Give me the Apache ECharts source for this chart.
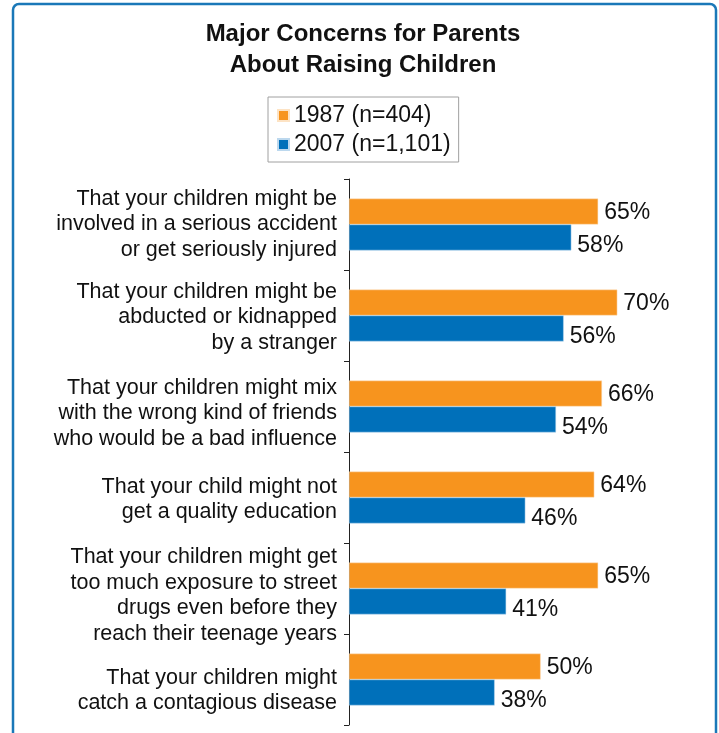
<!DOCTYPE html>
<html>
<head>
<meta charset="utf-8">
<script src="https://cdn.jsdelivr.net/npm/echarts@6/dist/echarts.min.js"></script>
<style>
html,body{margin:0;padding:0;background:#fff;}
#chart{width:719px;height:733px;}
</style>
</head>
<body>
<div id="chart"></div>
<script>
const categories = [
  "That your children might be\ninvolved in a serious accident\nor get seriously injured",
  "That your children might be\nabducted or kidnapped\nby a stranger",
  "That your children might mix\nwith the wrong kind of friends\nwho would be a bad influence",
  "That your child might not\nget a quality education",
  "That your children might get\ntoo much exposure to street\ndrugs even before they\nreach their teenage years",
  "That your children might\ncatch a contagious disease"
];
const seriesNames = ["1987 (n=404)", "2007 (n=1,101)"];
const values1987 = [65, 70, 66, 64, 65, 50];
const values2007 = [58, 56, 54, 46, 41, 38];

// styling only: small downward nudge of each category label block (px)
const labelNudge = [0, 2, 7, 2, 7, 11];

const chart = echarts.init(document.getElementById('chart'), null, {renderer: 'canvas'});
const FONT = '"Liberation Sans", Arial, Helvetica, sans-serif';
function valueLabel(dy) {
  return {
    show: true, position: 'right', distance: 6, offset: [0, dy],
    formatter: '{c}%', fontSize: 23, color: '#111', fontFamily: FONT
  };
}
const spacerRich = {};
labelNudge.forEach((n, i) => {
  spacerRich['s' + i] = {fontSize: 1, lineHeight: Math.max(n * 2, 0.01), height: Math.max(n * 2, 0.01)};
});
chart.setOption({
  backgroundColor: '#fff',
  animation: false,
  graphic: [{
    type: 'rect',
    shape: {x: 13, y: 4, width: 703, height: 780, r: 6},
    style: {fill: 'none', stroke: '#1a78b8', lineWidth: 2.5},
    z: -1
  }],
  title: {
    text: 'Major Concerns for Parents\nAbout Raising Children',
    left: 358, textAlign: 'center', top: 14,
    textStyle: {fontSize: 24, fontWeight: 'bold', color: '#111', lineHeight: 31, fontFamily: FONT}
  },
  legend: {
    orient: 'vertical',
    left: 268, top: 97,
    data: seriesNames,
    icon: 'rect',
    itemWidth: 11, itemHeight: 11, itemGap: 6,
    padding: [7, 8, 6, 9],
    borderColor: '#a0a0a0', borderWidth: 1,
    textStyle: {fontSize: 23, color: '#111', fontFamily: FONT}
  },
  grid: {left: 349, right: 25, top: 179, bottom: 8, containLabel: false},
  xAxis: {type: 'value', min: 0, max: 90, show: false},
  yAxis: {
    type: 'category', inverse: true,
    data: categories,
    axisLine: {show: true, lineStyle: {color: '#222', width: 1}},
    axisTick: {show: true, length: 5, lineStyle: {color: '#222'}},
    axisLabel: {
      interval: 0, margin: 12, fontSize: 21.5, lineHeight: 25.7, color: '#111', fontFamily: FONT, align: 'right',
      formatter: (v, i) => labelNudge[i] > 0 ? '{s' + i + '| }\n' + v : v,
      rich: spacerRich
    }
  },
  series: [
    {name: seriesNames[0], type: 'bar', data: values1987, barCategoryGap: '43%', barGap: '0%',
     itemStyle: {color: '#f7941e', borderColor: '#fde3c4', borderWidth: 0.5}, label: valueLabel(1)},
    {name: seriesNames[1], type: 'bar', data: values2007, barCategoryGap: '43%', barGap: '0%',
     itemStyle: {color: '#0070ba', borderColor: '#bcd8ee', borderWidth: 0.5}, label: valueLabel(8)}
  ]
});
</script>
</body>
</html>
